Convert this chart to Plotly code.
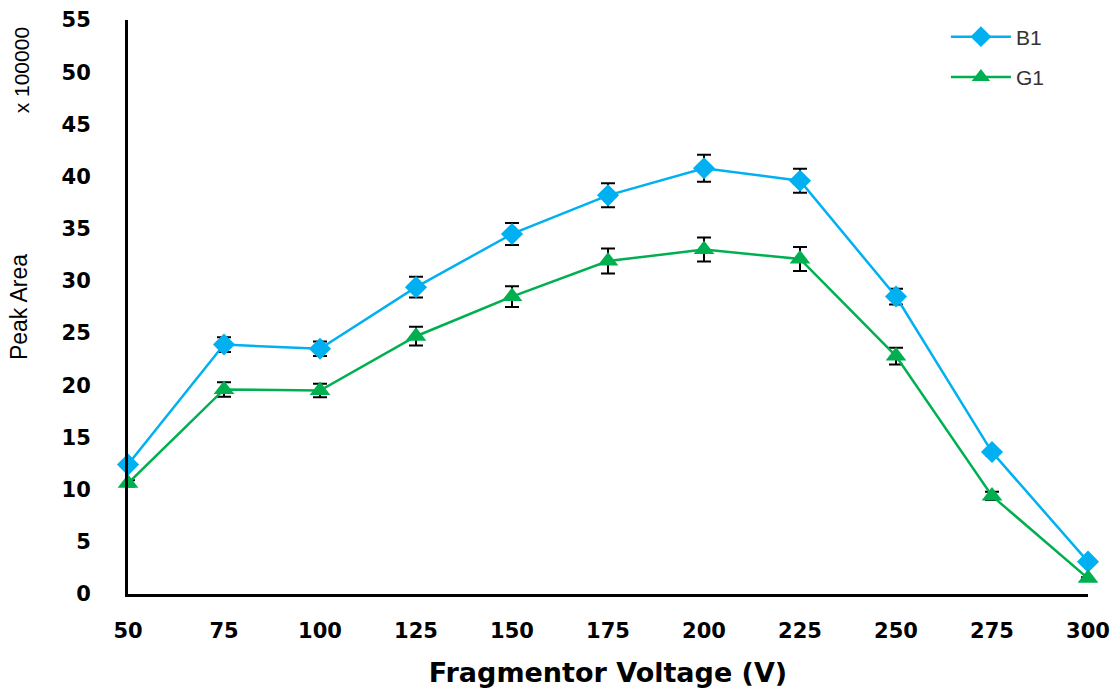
import plotly.graph_objects as go

voltage = [50, 75, 100, 125, 150, 175, 200, 225, 250, 275, 300]
b1_area = [12.4, 23.9, 23.5, 29.4, 34.5, 38.2, 40.8, 39.6, 28.5, 13.6, 3.1]
b1_err = [0.2, 0.7, 0.7, 1.0, 1.05, 1.15, 1.3, 1.15, 0.75, 0.3, 0.1]
g1_area = [10.6, 19.6, 19.5, 24.7, 28.5, 31.9, 33.0, 32.1, 22.8, 9.4, 1.5]
g1_err = [0.3, 0.7, 0.65, 0.9, 1.0, 1.2, 1.15, 1.15, 0.8, 0.4, 0.1]
y_ticks = list(range(0, 56, 5))

fig = go.Figure()
fig.add_trace(go.Scatter(
    x=voltage, y=b1_area, name="B1", mode="lines+markers",
    line=dict(color="#00B0F0", width=2.5),
    marker=dict(symbol="diamond", size=17, color="#00B0F0"),
    error_y=dict(type="data", array=b1_err, color="black", thickness=2, width=7),
    cliponaxis=False, legendgroup="b1",
))
fig.add_trace(go.Scatter(
    x=voltage, y=g1_area, name="G1", mode="lines+markers",
    line=dict(color="#00B050", width=2.5),
    marker=dict(symbol="triangle-up", size=18, color="#00B050"),
    error_y=dict(type="data", array=g1_err, color="black", thickness=2, width=7),
    cliponaxis=False, legendgroup="g1",
))

tick_font = dict(family="DejaVu Sans", size=21, color="black", weight="bold")

fig.update_layout(
    width=1115, height=688,
    margin=dict(l=128, r=27, t=20, b=94, autoexpand=False),
    paper_bgcolor="white", plot_bgcolor="white",
    showlegend=True,
    legend=dict(
        x=0.852, xanchor="left",
        yref="container", y=0.976, yanchor="top",
        font=dict(family="Liberation Sans", size=21, color="#333333"),
        bgcolor="rgba(0,0,0,0)", itemwidth=60,
        traceorder="grouped", tracegroupgap=10,
    ),
    xaxis=dict(
        range=[50, 300], tickvals=voltage, ticks="outside", ticklen=0,
        ticklabelstandoff=16, showgrid=False, zeroline=False,
        showline=True, linecolor="black", linewidth=3,
        tickfont=tick_font, automargin=False,
        title=dict(text="Fragmentor Voltage (V)",
                   font=dict(family="DejaVu Sans", size=27, color="black", weight="bold"),
                   standoff=34),
    ),
    yaxis=dict(
        range=[0, 55], tickvals=y_ticks, ticks="outside", ticklen=0,
        ticklabelstandoff=30, showgrid=False, zeroline=False,
        showline=True, linecolor="black", linewidth=3,
        tickfont=tick_font, automargin=False,
        title=dict(text="Peak Area",
                   font=dict(family="Liberation Sans", size=23, color="black"),
                   standoff=28),
    ),
    annotations=[dict(
        text="x 100000", xref="paper", yref="paper",
        x=-0.11, y=0.913, xanchor="center", yanchor="middle",
        textangle=-90, showarrow=False,
        font=dict(family="Liberation Sans", size=21, color="black"),
    )],
)

fig.write_html("out.html")
